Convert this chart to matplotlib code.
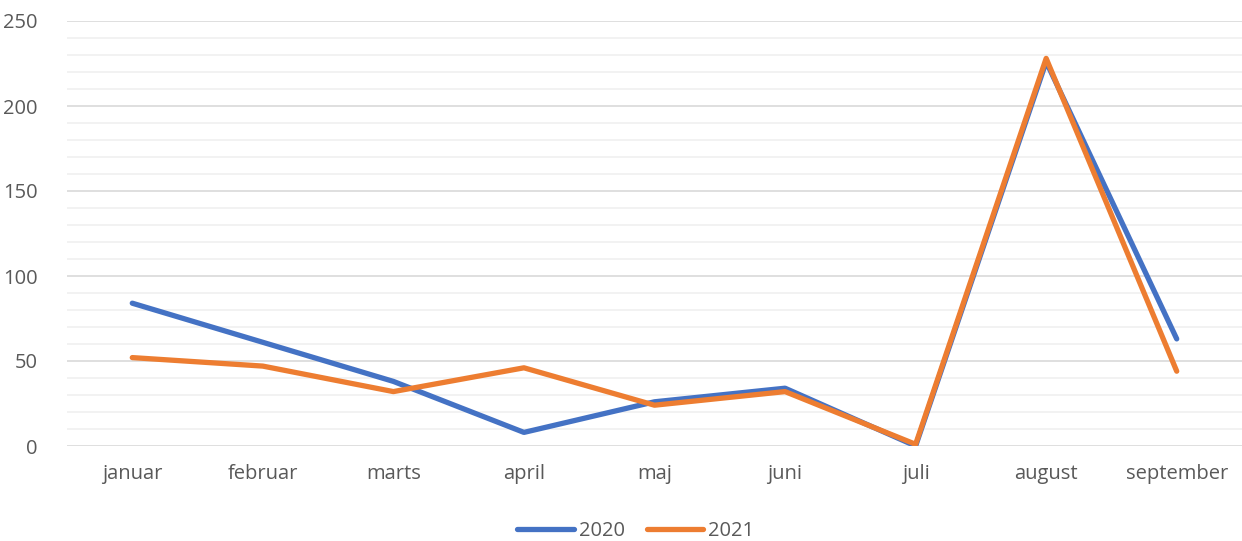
import matplotlib
matplotlib.use("Agg")
import matplotlib.pyplot as plt
from matplotlib.ticker import MultipleLocator

months = ["januar", "februar", "marts", "april", "maj", "juni", "juli", "august", "september"]
vals_2020 = [84, 61, 38, 8, 26, 34, 0, 226, 63]
vals_2021 = [52, 47, 32, 46, 24, 32, 1, 228, 44]

BLUE = "#4472C4"
ORANGE = "#ED7D31"
TXT = "#595959"

plt.rcParams["font.family"] = ["Open Sans", "DejaVu Sans"]

fig = plt.figure(figsize=(12.42, 5.41), dpi=100)
ax = fig.add_axes([67 / 1242, 95 / 541, 1175 / 1242, 425 / 541])

x = list(range(len(months)))
ax.plot(x, vals_2020, color=BLUE, lw=3.8, solid_capstyle="round", solid_joinstyle="round", label="2020", zorder=3)
ax.plot(x, vals_2021, color=ORANGE, lw=3.8, solid_capstyle="round", solid_joinstyle="round", label="2021", zorder=4)

ax.set_xlim(-0.5, len(months) - 0.5)
ax.set_ylim(0, 250)
ax.yaxis.set_major_locator(MultipleLocator(50))
ax.yaxis.set_minor_locator(MultipleLocator(10))
ax.grid(True, which="major", axis="y", color="#D9D9D9", lw=1.2, zorder=1)
ax.grid(True, which="minor", axis="y", color="#F0F0F0", lw=1.2, zorder=0)
ax.set_xticks(x)
ax.set_xticklabels(months)
for s in ax.spines.values():
    s.set_visible(False)
ax.tick_params(axis="both", which="both", length=0, labelsize=14.5, colors=TXT)
ax.tick_params(axis="x", pad=13)
ax.tick_params(axis="y", pad=21)

leg = fig.legend(loc="center", bbox_to_anchor=(0.512, 10 / 541), ncol=2, frameon=False,
                 fontsize=14.5, handlelength=2.8, handletextpad=0.25, columnspacing=1.1)
for t in leg.get_texts():
    t.set_color(TXT)

fig.savefig("out.png", dpi=100)
